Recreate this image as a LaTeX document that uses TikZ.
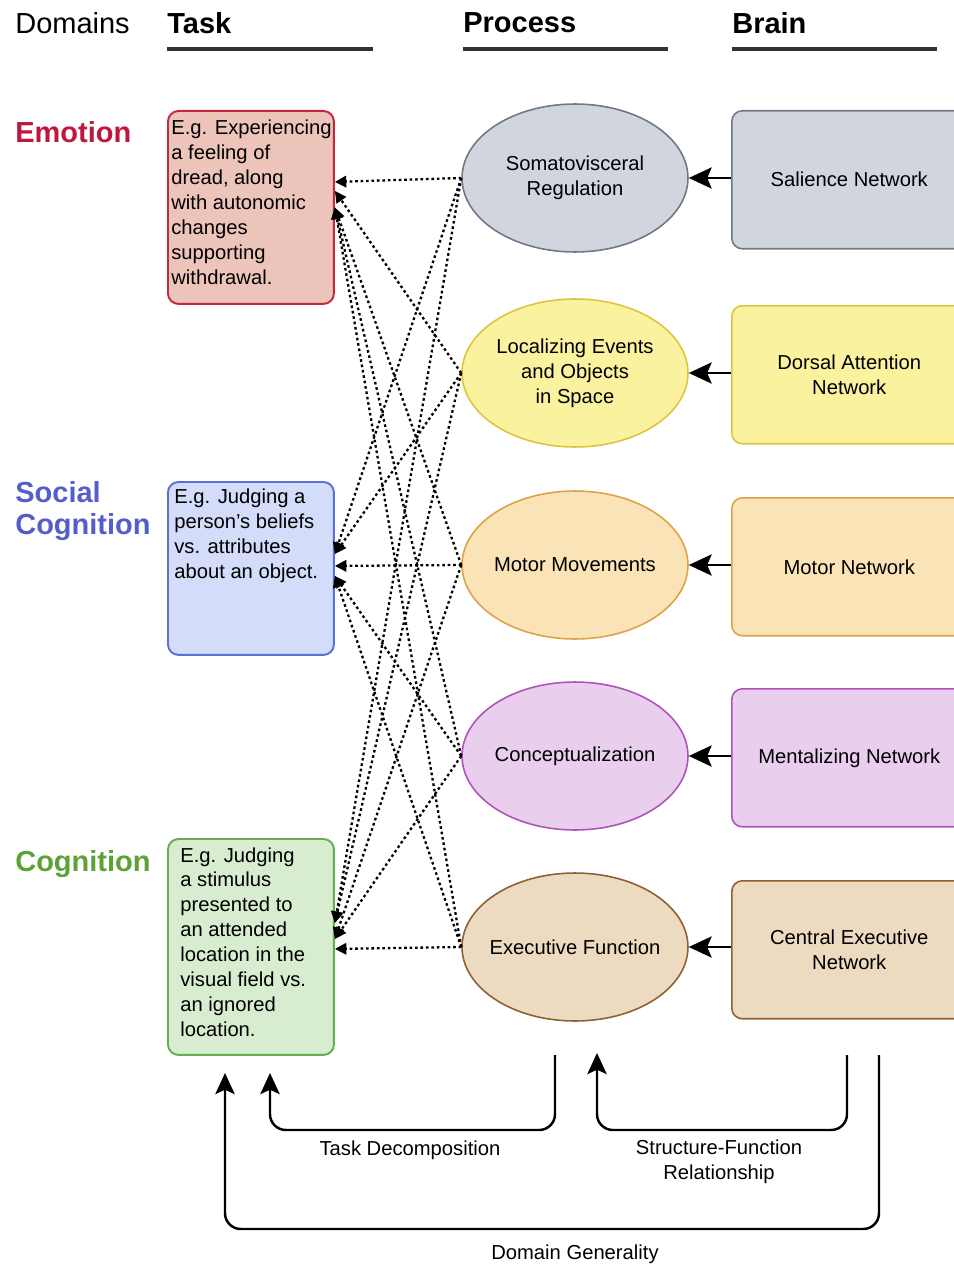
\documentclass[tikz,border=0pt]{standalone}
\usepackage{fontspec}
\setmainfont{Liberation Sans}
\usetikzlibrary{arrows.meta,calc,positioning,shapes.geometric}
\definecolor{emofill}{RGB}{236,196,186}
\definecolor{emoline}{RGB}{192,42,62}
\definecolor{socfill}{RGB}{211,220,248}
\definecolor{socline}{RGB}{92,112,212}
\definecolor{cogfill}{RGB}{216,236,208}
\definecolor{cogline}{RGB}{102,172,82}
\definecolor{grayfill}{RGB}{209,213,221}
\definecolor{grayline}{RGB}{112,120,134}
\definecolor{yelfill}{RGB}{251,242,160}
\definecolor{yelline}{RGB}{222,196,62}
\definecolor{orafill}{RGB}{250,227,182}
\definecolor{oraline}{RGB}{222,162,72}
\definecolor{pinkfill}{RGB}{233,206,238}
\definecolor{pinkline}{RGB}{176,82,186}
\definecolor{tanfill}{RGB}{236,219,192}
\definecolor{tanline}{RGB}{142,96,52}
\definecolor{emotext}{RGB}{192,22,62}
\definecolor{soctext}{RGB}{84,94,202}
\definecolor{cogtext}{RGB}{92,162,52}

\begin{document}
\begin{tikzpicture}[x=0.02cm,y=-0.02cm,
  every node/.style={font=\fontsize{11.5}{14.2}\selectfont},
  taskbox/.style={draw,line width=1.1pt,rounded corners=6pt,minimum width=3.32cm,anchor=north west,inner sep=0pt},
  tasktext/.style={align=left,anchor=north west,inner sep=0pt},
  procnode/.style={ellipse,draw,line width=0.9pt,minimum width=4.52cm,minimum height=2.96cm,align=center,inner xsep=-0.6cm,inner ysep=-0.3cm},
  brainbox/.style={draw,line width=0.9pt,rounded corners=6pt,minimum width=4.7cm,minimum height=2.76cm,align=center,anchor=north west},
  head/.style={anchor=west,inner sep=0pt,font=\fontsize{16.5}{19}\selectfont\bfseries},
  domlabel/.style={anchor=west,inner sep=0pt,align=left,font=\fontsize{16.5}{18.7}\selectfont\bfseries},
  headline/.style={line width=2pt,black!80},
  dotarrow/.style={line width=1.3pt,dash pattern=on 1.5pt off 1.6pt,-{Triangle[length=6.5pt,width=6.5pt]}},
  netarrow/.style={line width=1.5pt,-{Stealth[length=13pt,width=12pt,inset=2.5pt]}},
  flowarrow/.style={line width=1.4pt,rounded corners=9pt,-{Stealth[length=12pt,width=11pt,inset=2.5pt]}}]
\useasboundingbox (0,0) rectangle (953,1267);

\node[head,font=\fontsize{16.5}{19}\selectfont] (domains) at (15,23) {Domains};
\node[head] (task) at (167,23) {Task};
\node[head] (process) at (463,23) {Process};
\node[head] (brain) at (732,23) {Brain};
\draw[headline] (167,49) -- (373,49);
\draw[headline] (463,49) -- (668,49);
\draw[headline] (732,49) -- (937,49);

\node[domlabel,emotext] (emolabel) at (15,132) {Emotion};
\node[domlabel,soctext] (soclabel) at (15,511) {Social\\Cognition};
\node[domlabel,cogtext] (coglabel) at (15,864) {Cognition};

\node[taskbox,fill=emofill,draw=emoline,minimum height=3.86cm] (emo) at (167,110) {};
\node[tasktext] (emotxt) at ($(emo.north west)+(4,10)$) {E.g. Experiencing\\a feeling of\\dread, along\\with autonomic\\changes\\supporting\\withdrawal.};
\node[taskbox,fill=socfill,draw=socline,minimum height=3.46cm] (soc) at (167,481) {};
\node[tasktext] (soctxt) at ($(soc.north west)+(7,8)$) {E.g. Judging a\\person's beliefs\\vs. attributes\\about an object.};
\node[taskbox,fill=cogfill,draw=cogline,minimum height=4.32cm] (cog) at (167,838) {};
\node[tasktext] (cogtxt) at ($(cog.north west)+(13,9)$) {E.g. Judging\\a stimulus\\presented to\\an attended\\location in the\\visual field vs.\\an ignored\\location.};

\node[procnode,fill=grayfill,draw=grayline] (soma) at (575,178) {Somatovisceral\\Regulation};
\node[procnode,fill=yelfill,draw=yelline] (loc) at (575,373) {Localizing Events\\and Objects\\in Space};
\node[procnode,fill=orafill,draw=oraline] (mot) at (575,565) {Motor Movements};
\node[procnode,fill=pinkfill,draw=pinkline] (con) at (575,756) {Conceptualization};
\node[procnode,fill=tanfill,draw=tanline] (exe) at (575,947) {Executive Function};

\node[brainbox,fill=grayfill,draw=grayline] (sal) at (731,110) {Salience Network};
\node[brainbox,fill=yelfill,draw=yelline] (dan) at (731,305) {Dorsal Attention\\Network};
\node[brainbox,fill=orafill,draw=oraline] (motnet) at (731,497) {Motor Network};
\node[brainbox,fill=pinkfill,draw=pinkline] (ment) at (731,688) {Mentalizing Network};
\node[brainbox,fill=tanfill,draw=tanline] (cen) at (731,880) {Central Executive\\Network};

\foreach \src/\dst in {sal/soma,dan/loc,motnet/mot,ment/con,cen/exe}
  \draw[netarrow] (\src.west |- \dst.east) -- (\dst.east);

\foreach \src/\dst/\dy in {soma/emo/-25.5,loc/emo/-16.5,mot/emo/0,con/emo/0,exe/emo/0,
  soma/soc/-14.5,loc/soc/-14.5,mot/soc/-2.5,con/soc/7.5,exe/soc/7.5,
  soma/cog/-24,loc/cog/-24,mot/cog/-8,con/cog/-8,exe/cog/2}
  \draw[dotarrow] (\src.west) -- ($(\dst.east)+(0,\dy)$);

\coordinate (tdstart) at (555,1055);
\coordinate (tdend) at (270,1073);
\coordinate (sfstart) at (847,1055);
\coordinate (sfend) at (597,1053);
\coordinate (dgstart) at (879,1055);
\coordinate (dgend) at (225,1073);
\draw[flowarrow] (tdstart) -- (555,1130) -- (270,1130) -- (tdend);
\draw[flowarrow] (sfstart) -- (847,1130) -- (597,1130) -- (sfend);
\draw[flowarrow] (dgstart) -- (879,1229) -- (225,1229) -- (dgend);
\node (tdlabel) at (410,1150) {Task Decomposition};
\node[align=center] (sflabel) at (719,1162) {Structure-Function\\Relationship};
\node (dglabel) at (575,1254) {Domain Generality};
\end{tikzpicture}
\end{document}
